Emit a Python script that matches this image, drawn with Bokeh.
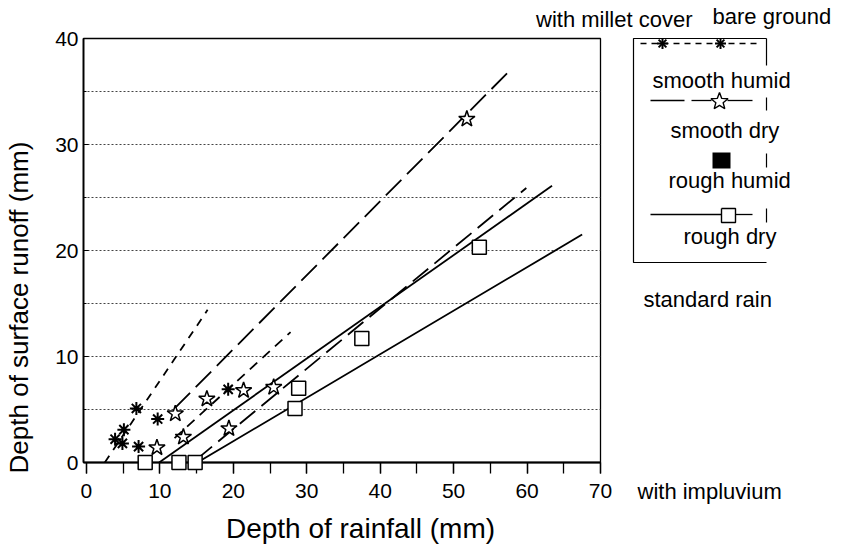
import math
from bokeh.plotting import figure
from bokeh.models import Range1d, SingleIntervalTicker
from bokeh.core.properties import value
from bokeh.embed import file_html
from bokeh.resources import INLINE

FONT = "Liberation Sans"

# ---------------- data ----------------
# asterisks
ast_rain = [3.9, 4.9, 5.1, 6.8, 7.1, 9.7, 19.3]
ast_runoff = [2.2, 1.8, 3.1, 5.1, 1.5, 4.1, 6.9]
# open stars
star_rain = [9.6, 12.1, 13.2, 16.4, 19.4, 21.4, 25.5, 51.8]
star_runoff = [1.4, 4.6, 2.4, 6.0, 3.2, 6.8, 7.1, 32.4]
# open squares
sq_rain = [8.0, 12.6, 14.8, 28.4, 28.9, 37.5, 53.5]
sq_runoff = [0.0, 0.0, 0.0, 5.1, 7.0, 11.7, 20.3]

# fitted lines: start / end (rainfall, runoff)
fit_x0 = [2.5, 12.0, 12.0, 9.9, 15.0, 15.1]
fit_y0 = [0.0, 5.1, 2.3, 0.0, 0.3, 0.0]
fit_x1 = [16.5, 57.4, 27.8, 63.4, 59.9, 67.5]
fit_y1 = [14.4, 36.8, 12.3, 26.1, 25.9, 21.5]
fit_dash = ["8 7", "22 8", "10 7", "solid", "20 8", "solid"]

x_ticks_step = 10
y_ticks_step = 10
grid_step = 5

legend_header = ["with millet cover", "bare ground"]
legend_labels = ["smooth humid", "smooth dry", "rough humid", "rough dry"]
side_notes = ["standard rain", "with impluvium"]
x_title = "Depth of rainfall (mm)"
y_title = "Depth of surface runoff (mm)"

# ---------------- figure ----------------
p = figure(frame_width=517, frame_height=424,
           min_border_left=83, min_border_right=235,
           min_border_top=38, min_border_bottom=84,
           x_range=Range1d(-0.4, 70), y_range=Range1d(0, 40),
           output_backend="svg", toolbar_location=None)
# pixel coordinate system (picture pixels) for the legend / notes / titles
p.extra_x_ranges = {"px": Range1d(83, 600)}
p.extra_y_ranges = {"py": Range1d(462, 38)}

p.background_fill_color = "white"
p.border_fill_color = "white"
p.outline_line_color = "black"
p.outline_line_width = 1.3

p.xgrid.visible = False
p.ygrid[0].ticker = SingleIntervalTicker(interval=grid_step)
p.ygrid.grid_line_color = "#444444"
p.ygrid.grid_line_dash = "2 2"
p.ygrid.grid_line_width = 1

xa = p.xaxis[0]
xa.ticker = SingleIntervalTicker(interval=x_ticks_step, num_minor_ticks=2)
xa.major_tick_out = 11
xa.major_tick_in = 0
xa.minor_tick_out = 11
xa.minor_tick_in = 0
xa.axis_line_width = 1.8
xa.major_tick_line_width = 1.3
xa.minor_tick_line_width = 1.3
xa.major_label_standoff = 10
xa.major_label_text_font = FONT
xa.major_label_text_font_size = "21px"
xa.major_label_text_color = "black"

ya = p.yaxis[0]
ya.ticker = SingleIntervalTicker(interval=y_ticks_step, num_minor_ticks=2)
ya.major_tick_out = 0
ya.major_tick_in = 5
ya.minor_tick_out = 0
ya.minor_tick_in = 3
ya.axis_line_width = 1.8
ya.major_label_standoff = 5
ya.major_label_text_font = FONT
ya.major_label_text_font_size = "21px"
ya.major_label_text_color = "black"

# fitted lines
for x0, y0, x1, y1, d in zip(fit_x0, fit_y0, fit_x1, fit_y1, fit_dash):
    p.line([x0, x1], [y0, y1], line_color="black", line_width=1.8, line_dash=d)

# points
p.scatter(ast_rain, ast_runoff, marker="asterisk", size=13,
          line_color="black", line_width=2)
p.scatter(star_rain, star_runoff, marker="star", size=17,
          fill_color="white", line_color="black", line_width=1.5)
p.scatter(sq_rain, sq_runoff, marker="square", size=14,
          fill_color="white", line_color="black", line_width=1.5, level="overlay")

# ---------------- legend (picture pixel coordinates) ----------------
L = dict(x_range_name="px", y_range_name="py", level="overlay")


def star_outline(cx, cy, R, r):
    xs, ys = [], []
    for k in range(11):
        ang = -math.pi / 2 + k * math.pi / 5
        rad = R if k % 2 == 0 else r
        xs.append(cx + rad * math.cos(ang))
        ys.append(cy + rad * math.sin(ang))
    return xs, ys


def square_outline(cx, cy, h):
    return [cx - h, cx + h, cx + h, cx - h, cx - h], [cy - h, cy - h, cy + h, cy + h, cy - h]


def asterisk_arms(cx, cy, r):
    xs, ys = [], []
    for k in range(4):
        a = k * math.pi / 4
        xs.append([cx - r * math.cos(a), cx + r * math.cos(a)])
        ys.append([cy - r * math.sin(a), cy + r * math.sin(a)])
    return xs, ys


# box (right edge interrupted by the labels, as in the scan)
p.multi_line(xs=[[766, 633, 633, 766], [766, 766], [766, 766], [766, 766], [766, 766]],
             ys=[[38, 38, 262, 262], [38, 65], [97, 110], [153, 167], [208, 222]],
             line_color="black", line_width=1.2, **L)
# row 1: dashed with asterisks
p.line([640, 757], [43, 43], line_color="black", line_width=1.3, line_dash="6 5", **L)
for cx in (662, 720):
    axs, ays = asterisk_arms(cx, 43, 5.5)
    p.multi_line(xs=axs, ys=ays, line_color="black", line_width=2, **L)
# row 2: line with open star
p.multi_line(xs=[[650, 684], [691, 711], [727, 752]], ys=[[100, 100]] * 3,
             line_color="black", line_width=1.3, **L)
sx, sy = star_outline(719, 101, 9, 3.8)
p.line(sx, sy, line_color="black", line_width=1.4, **L)
# row 3: filled square
p.line([712, 730], [160, 160], line_color="black", line_width=16, line_cap="butt", **L)
# row 4: line with open square
p.multi_line(xs=[[650, 721], [735, 752]], ys=[[214, 214]] * 2,
             line_color="black", line_width=1.3, **L)
qx, qy = square_outline(728, 215, 7)
p.line(qx, qy, line_color="black", line_width=1.4, **L)

TXT = dict(text_font=value(FONT), text_color="black", text_baseline="alphabetic", **L)
p.text(x=[692], y=[19], text=[legend_header[0]], text_align="right",
       text_font_size="22px", **TXT)
p.text(x=[712], y=[16], text=[legend_header[1]], text_align="left",
       text_font_size="22px", **TXT)
p.text(x=[652, 670, 668, 683], y=[80, 130, 180, 236], text=legend_labels,
       text_align="left", text_font_size="22px", **TXT)
p.text(x=[643, 637], y=[299, 491], text=side_notes, text_align="left",
       text_font_size="22px", **TXT)
# axis titles (placed as in the original)
p.text(x=[360], y=[528], text=[x_title], text_align="center",
       text_font_size="28px", **TXT)
p.text(x=[18], y=[307], text=[y_title], angle=math.pi / 2, text_align="center",
       text_font_size="26px", **TXT)

open("out.html", "w").write(file_html(p, INLINE))
